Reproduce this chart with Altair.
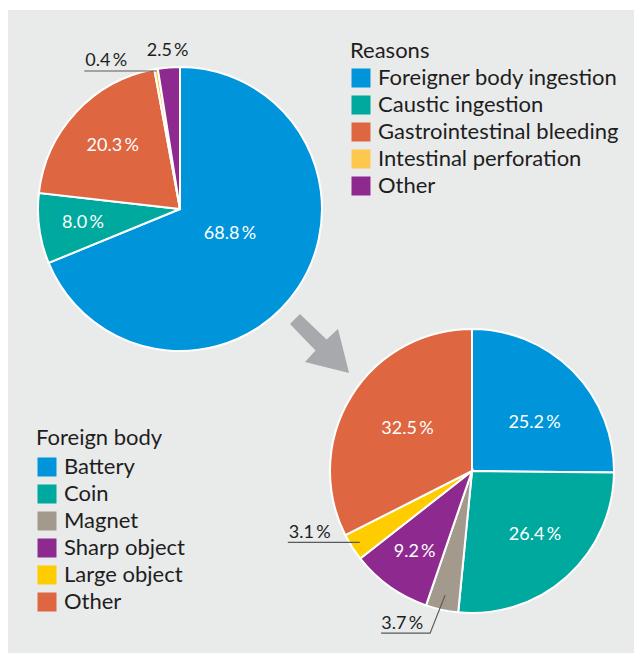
import math
import altair as alt
import pandas as pd

# ---------------- data ----------------
reason_labels = ["Foreigner body ingestion", "Caustic ingestion",
                 "Gastrointestinal bleeding", "Intestinal perforation", "Other"]
reason_values = [68.8, 8.0, 20.3, 0.4, 2.5]

body_labels = ["Battery", "Coin", "Magnet", "Sharp object", "Large object", "Other"]
body_values = [25.2, 26.4, 3.7, 9.2, 3.1, 32.5]

# ---------------- style ----------------
reason_colors = ["#0095da", "#00a99d", "#de6641", "#fec84e", "#8e2a8f"]
body_colors = ["#0095da", "#00a99d", "#a39a8d", "#8e2a8f", "#ffcc00", "#de6641"]

W, H = 626, 645
R = 142
C1 = (172, 201)   # centre of upper pie
C2 = (464, 463)   # centre of lower pie
FONT = "Lato"
DARK = "#1e1e1e"
BG = "#e9eaea"

# (radius, angle shift in degrees) of the in-slice labels; None -> outside label
top_label_pos = [(56, -7), (98, 0), (92, 0), None, None]
bot_label_pos = [(79, 7), (90, -2.5), None, (99, 0), None, (77, 1.5)]


def fmt(v):
    return f"{v:.1f}\u2009%"


def mid_angle(values, i):
    cum = sum(values[:i]) + values[i] / 2
    return cum / sum(values) * 2 * math.pi


def polar(c, r, a):
    return (c[0] + r * math.sin(a), c[1] - r * math.cos(a))


def pie_frame(labels, values):
    return pd.DataFrame({
        "cat": labels,
        "val": values,
        "idx": list(range(len(labels))),
    })


def inner_labels(values, centre, pos):
    rows = []
    for i, (v, p) in enumerate(zip(values, pos)):
        if p is None:
            continue
        x, y = polar(centre, p[0], mid_angle(values, i) + math.radians(p[1]))
        rows.append({"t": fmt(v), "x": x, "y": y})
    return pd.DataFrame(rows)


def legend(title, lx, ly, tpad):
    return alt.Legend(
        title=title, orient="none", legendX=lx, legendY=ly,
        symbolType="square", symbolSize=361, symbolStrokeWidth=0,
        symbolOpacity=1, labelFontSize=22, titleFontSize=22,
        titleFontWeight="normal", titleFont=FONT, labelFont=FONT,
        titleColor=DARK, labelColor=DARK, rowPadding=5, labelOffset=6,
        titlePadding=tpad, labelLimit=400, padding=0,
    )


def pie(labels, values, centre, colors, leg, pos):
    arcs = alt.Chart(pie_frame(labels, values)).mark_arc(
        outerRadius=R, stroke="white", strokeWidth=2
    ).encode(
        theta=alt.Theta("val:Q", stack=True),
        order=alt.Order("idx:Q", sort="ascending"),
        x=alt.value(centre[0]),
        y=alt.value(centre[1]),
        color=alt.Color("cat:N", scale=alt.Scale(domain=labels, range=colors),
                        legend=leg),
    )
    text = alt.Chart(inner_labels(values, centre, pos)).mark_text(
        color="white", font=FONT, fontSize=18, baseline="middle", align="center"
    ).encode(
        x=alt.X("x:Q", scale=None), y=alt.Y("y:Q", scale=None), text="t:N"
    )
    return arcs, text


arcs_top, text_top = pie(reason_labels, reason_values, C1, reason_colors,
                         legend("Reasons", 342, 33, 4), top_label_pos)
arcs_bot, text_bot = pie(body_labels, body_values, C2, body_colors,
                         legend("Foreign body", 28, 420, 6), bot_label_pos)

# ---------------- outside labels and leader lines (from slice angles) ----------------
a_top3 = mid_angle(reason_values, 3)
a_top4 = mid_angle(reason_values, 4)
a_bot2 = mid_angle(body_values, 2)
a_bot4 = mid_angle(body_values, 4)

e1 = polar(C1, 140, a_top3)                      # 0.4 %
e2 = polar(C2, 133, a_bot4)                      # 3.1 %
e3 = polar(C2, 127, a_bot2)                      # 3.7 %
elbow3 = (e3[0] - 15, e3[1] + 38)
p4 = polar(C1, 158, a_top4)                      # 2.5 %

lines = pd.DataFrame([
    {"g": 0, "o": 0, "x": e1[0] - 72, "y": e1[1]},
    {"g": 0, "o": 1, "x": e1[0], "y": e1[1]},
    {"g": 1, "o": 0, "x": e2[0] - 72, "y": e2[1]},
    {"g": 1, "o": 1, "x": e2[0], "y": e2[1]},
    {"g": 2, "o": 0, "x": elbow3[0] - 49, "y": elbow3[1]},
    {"g": 2, "o": 1, "x": elbow3[0], "y": elbow3[1]},
    {"g": 2, "o": 2, "x": e3[0], "y": e3[1]},
])

outside = pd.DataFrame([
    {"t": fmt(reason_values[3]), "x": e1[0] - 71, "y": e1[1] - 5, "al": "left"},
    {"t": fmt(reason_values[4]), "x": p4[0], "y": p4[1], "al": "center"},
    {"t": fmt(body_values[4]), "x": e2[0] - 71, "y": e2[1] - 4, "al": "left"},
    {"t": fmt(body_values[2]), "x": elbow3[0] - 7, "y": elbow3[1] - 4, "al": "right"},
])

leader = alt.Chart(lines).mark_line(color="#5a5a5a", strokeWidth=1.2).encode(
    x=alt.X("x:Q", scale=None), y=alt.Y("y:Q", scale=None),
    detail="g:N", order="o:Q",
)


def out_text(al, bl):
    return alt.Chart(outside).transform_filter(f"datum.al == '{al}'").mark_text(
        align=al, baseline=bl, font=FONT, fontSize=18, color=DARK
    ).encode(x=alt.X("x:Q", scale=None), y=alt.Y("y:Q", scale=None), text="t:N")


# ---------------- background panel and arrow ----------------
one = pd.DataFrame({"a": [0]})
panel = alt.Chart(one).mark_rect(color=BG).encode(
    x=alt.value(0), x2=alt.value(W), y=alt.value(2), y2=alt.value(H)
)

arrow_path = ("M -1 -0.67 L -0.67 -1 L 0.22 -0.15 L 0.6 -0.5 L 0.97 0.97 "
              "L -0.5 0.6 L -0.15 0.22 Z")
arrow = alt.Chart(one).mark_point(
    shape=arrow_path, filled=True, size=3600, color="#a7a9ac", opacity=1, strokeWidth=0
).encode(x=alt.value(312), y=alt.value(336))

chart = alt.layer(
    panel, arrow, arcs_top, text_top, arcs_bot, text_bot, leader,
    out_text("left", "alphabetic"), out_text("center", "middle"),
    out_text("right", "alphabetic"),
).resolve_scale(
    theta="independent", color="independent"
).properties(
    width=W, height=H, padding=0,
    autosize=alt.AutoSizeParams(type="none"),
).configure_view(stroke=None)

chart.save("out.html", embed_options={"renderer": "svg", "actions": False})
